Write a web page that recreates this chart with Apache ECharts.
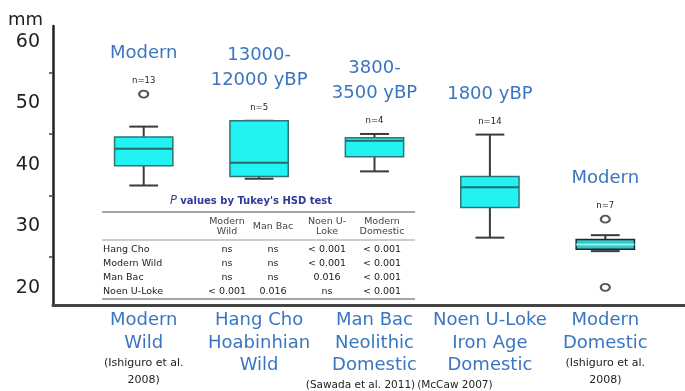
<!DOCTYPE html>
<html>
<head>
<meta charset="utf-8">
<script src="https://cdn.jsdelivr.net/npm/echarts@6.0.0/dist/echarts.min.js"></script>
<style>
  html, body { margin: 0; padding: 0; background: #fff; }
  #chart { width: 685px; height: 391px; }
</style>
</head>
<body>
<div id="chart"></div>
<script>
// Group names (blue, under the axis) and their source citations
const categoryLines = [
  ['Modern', 'Wild'],
  ['Hang Cho', 'Hoabinhian', 'Wild'],
  ['Man Bac', 'Neolithic', 'Domestic'],
  ['Noen U-Loke', 'Iron Age', 'Domestic'],
  ['Modern', 'Domestic']
];
const citations = [
  ['(Ishiguro et al.', '2008)'],
  [],
  ['(Sawada et al. 2011)'],
  ['(McCaw 2007)'],
  ['(Ishiguro et al.', '2008)']
];
// Period label above each box and sample size
const periods = [['Modern'], ['13000-', '12000 yBP'], ['3800-', '3500 yBP'], ['1800 yBP'], ['Modern']];
const sampleSizes = [13, 5, 4, 14, 7];

// Box statistics in mm: [lower whisker, Q1, median, Q3, upper whisker]
const boxStats = [
  [36.6, 39.8, 42.6, 44.5, 46.2],
  [37.7, 38.05, 40.3, 47.15, 47.15],
  [38.9, 41.3, 43.9, 44.4, 45.0],
  [28.1, 33.0, 36.3, 38.05, 44.9],
  [25.9, 26.2, 27.0, 27.8, 28.5]
];
// Outliers: [group index, value in mm]
const outliers = [[0, 51.5], [4, 31.1], [4, 20.0]];

// Y axis labels and minor tick positions (mm)
const yLabels = [20, 30, 40, 50, 60];
const yTicks = [25, 35, 45, 55];

// Tukey HSD p-value table
const tableTitle = "values by Tukey's HSD test";
const tableCols = [['Modern', 'Wild'], ['Man Bac'], ['Noen U-', 'Loke'], ['Modern', 'Domestic']];
const tableRows = ['Hang Cho', 'Modern Wild', 'Man Bac', 'Noen U-Loke'];
const tableValues = [
  ['ns', 'ns', '< 0.001', '< 0.001'],
  ['ns', 'ns', '< 0.001', '< 0.001'],
  ['ns', 'ns', '0.016', '< 0.001'],
  ['< 0.001', '0.016', 'ns', '< 0.001']
];

const BLUE = '#3a76c0';
const FONT = 'DejaVu Sans';
const Y_MIN = 17.2, Y_MAX = 62.6;

const chart = echarts.init(document.getElementById('chart'));

const xLabelText = categoryLines.map((lines, i) => {
  const parts = lines.map(l => '{b|' + l + '}');
  citations[i].forEach(c => {
    const style = c.indexOf('Sawada') >= 0 ? 'cs' : (c.indexOf('McCaw') >= 0 ? 'cm' : 'c');
    parts.push('{' + style + '|' + c + '}');
  });
  return parts.join('\n');
});

const boxData = boxStats.map((s, i) => [i].concat(s));
const topData = boxStats.map((s, i) => {
  let top = s[4];
  outliers.forEach(o => { if (o[0] === i && o[1] > top) top = o[1]; });
  return [i, top];
});

function renderBox(params, api) {
  const i = api.value(0);
  const pLow = api.coord([i, api.value(1)]);
  const pQ1 = api.coord([i, api.value(2)]);
  const pMed = api.coord([i, api.value(3)]);
  const pQ3 = api.coord([i, api.value(4)]);
  const pHigh = api.coord([i, api.value(5)]);
  const band = api.size([1, 0])[0];
  const bw = band * 0.505;
  const cw = band * 0.25;
  const x = pMed[0];
  const dom = i === 4;
  const fill = dom ? '#35c6c6' : '#22f2f2';
  const edge = dom ? '#1c2a2a' : '#2f7474';
  const whisk = { stroke: '#3a3a3a', lineWidth: 2 };
  return {
    type: 'group',
    children: [
      { type: 'line', shape: { x1: x, y1: pQ3[1], x2: x, y2: pHigh[1] }, style: whisk },
      { type: 'line', shape: { x1: x, y1: pQ1[1], x2: x, y2: pLow[1] }, style: whisk },
      { type: 'line', shape: { x1: x - cw / 2, y1: pHigh[1], x2: x + cw / 2, y2: pHigh[1] }, style: whisk },
      { type: 'line', shape: { x1: x - cw / 2, y1: pLow[1], x2: x + cw / 2, y2: pLow[1] }, style: whisk },
      { type: 'rect', shape: { x: x - bw / 2, y: pQ3[1], width: bw, height: pQ1[1] - pQ3[1] },
        style: { fill: fill, stroke: edge, lineWidth: 1.5 } },
      { type: 'line', shape: { x1: x - bw / 2, y1: pMed[1], x2: x + bw / 2, y2: pMed[1] },
        style: { stroke: dom ? '#8ef0f0' : '#2a6a6a', lineWidth: 2 } }
    ]
  };
}

// p-value table drawn as graphic elements
const tbl = [];
const tX0 = 102, tX1 = 415;
const colX = [227, 273, 327, 382];
const rowY = [250, 263.5, 277.5, 292];
const TXT = { fontSize: 9.5, fontFamily: FONT, fill: '#222', verticalAlign: 'middle' };
tbl.push({ type: 'text', style: {
  x: 251, y: 201, align: 'center', verticalAlign: 'middle',
  text: '{i|P} {t|' + tableTitle + '}',
  rich: {
    i: { fontStyle: 'italic', fontSize: 11.5, fill: '#2d3a9a', fontFamily: FONT },
    t: { fontSize: 10, fill: '#2d3a9a', fontFamily: FONT, fontWeight: 'bold' }
  }
}});
tbl.push({ type: 'line', shape: { x1: tX0, y1: 212, x2: tX1, y2: 212 }, style: { stroke: '#888', lineWidth: 1.5 } });
tbl.push({ type: 'line', shape: { x1: tX0, y1: 240, x2: tX1, y2: 240 }, style: { stroke: '#999', lineWidth: 1 } });
tbl.push({ type: 'line', shape: { x1: tX0, y1: 299, x2: tX1, y2: 299 }, style: { stroke: '#888', lineWidth: 1.5 } });
tableCols.forEach((c, j) => {
  const yc = c.length === 1 ? 226.5 : 221.5;
  c.forEach((t, k) => tbl.push({ type: 'text', style: Object.assign({}, TXT, {
    x: colX[j], y: yc + k * 10.5, text: t, align: 'center', fill: '#444'
  })}));
});
tableRows.forEach((r, k) => {
  tbl.push({ type: 'text', style: Object.assign({}, TXT, { x: tX0 + 1, y: rowY[k], text: r, align: 'left' }) });
  tableValues[k].forEach((v, j) => tbl.push({ type: 'text', style: Object.assign({}, TXT, {
    x: colX[j], y: rowY[k], text: v, align: 'center' }) }));
});

chart.setOption({
  animation: false,
  backgroundColor: '#fff',
  grid: [
    { left: 53, right: 0, top: 26, bottom: 86 },
    { left: 86, right: 22, top: 26, bottom: 86 }
  ],
  xAxis: [
    { gridIndex: 0, type: 'value', min: 0, max: 1,
      axisLine: { show: true, onZero: false, lineStyle: { color: '#444', width: 3 } },
      axisTick: { show: false }, axisLabel: { show: false }, splitLine: { show: false } },
    { gridIndex: 1, type: 'category', data: categoryLines.map(l => l.join(' ')),
      axisLine: { show: false }, axisTick: { show: false }, splitLine: { show: false },
      axisLabel: {
        interval: 0, margin: 5, verticalAlign: 'top',
        formatter: (v, i) => xLabelText[i],
        rich: {
          b: { fontSize: 18, lineHeight: 22.5, color: BLUE, fontFamily: FONT },
          c: { fontSize: 11, lineHeight: 17, color: '#222', fontFamily: FONT },
          cs: { fontSize: 10.5, lineHeight: 17, color: '#222', fontFamily: FONT, padding: [0, 28, 0, 0] },
          cm: { fontSize: 10.5, lineHeight: 17, color: '#222', fontFamily: FONT, padding: [0, 70, 0, 0] }
        }
      } }
  ],
  yAxis: [
    { gridIndex: 0, type: 'value', min: Y_MIN, max: Y_MAX,
      name: 'mm', nameLocation: 'end', nameGap: 6,
      nameTextStyle: { fontSize: 18, color: '#222', fontFamily: FONT, align: 'right',
        verticalAlign: 'middle', padding: [0, 10, 0, 0] },
      axisLine: { show: true, onZero: false, lineStyle: { color: '#222', width: 2.5 } },
      axisTick: { show: true, length: 4, customValues: yTicks, lineStyle: { color: '#444', width: 1.5 } },
      axisLabel: { customValues: yLabels, fontSize: 19, color: '#222', fontFamily: FONT, margin: 13 },
      splitLine: { show: false } },
    { gridIndex: 1, type: 'value', min: Y_MIN, max: Y_MAX, show: false, splitLine: { show: false } }
  ],
  series: [
    { type: 'custom', xAxisIndex: 1, yAxisIndex: 1, data: boxData,
      encode: { x: 0, y: [1, 2, 3, 4, 5] }, renderItem: renderBox, z: 3 },
    { type: 'scatter', xAxisIndex: 1, yAxisIndex: 1, data: outliers,
      symbol: 'emptyCircle', symbolSize: [9, 7],
      itemStyle: { color: '#555', borderWidth: 1.5, opacity: 1 }, z: 4 },
    { type: 'scatter', xAxisIndex: 1, yAxisIndex: 1, data: topData, symbolSize: 0, z: 5,
      itemStyle: { opacity: 1 },
      label: {
        show: true, position: 'top', distance: -2,
        formatter: p => periods[p.dataIndex].map(t => '{e|' + t + '}').join('\n') +
          '\n{n|n=' + sampleSizes[p.dataIndex] + '}',
        rich: {
          e: { fontSize: 18, lineHeight: 25, color: BLUE, fontFamily: FONT, align: 'center' },
          n: { fontSize: 8.5, lineHeight: 30, color: '#222', fontFamily: FONT, align: 'center' }
        }
      } }
  ],
  graphic: tbl
});
</script>
</body>
</html>
